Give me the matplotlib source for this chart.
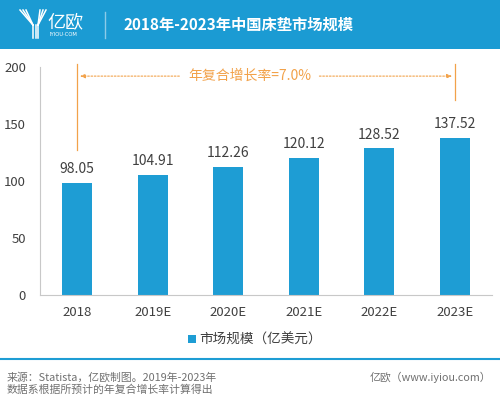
import matplotlib
matplotlib.use("Agg")
import matplotlib.pyplot as plt
from matplotlib.lines import Line2D
from matplotlib.patches import Rectangle

plt.rcParams['font.family'] = ['Noto Sans CJK SC', 'DejaVu Sans']

categories = ["2018", "2019E", "2020E", "2021E", "2022E", "2023E"]
values = [98.05, 104.91, 112.26, 120.12, 128.52, 137.52]
yticks = [0, 50, 100, 150, 200]
title = "2018年-2023年中国床垫市场规模"
legend_label = "市场规模（亿美元）"
cagr_label = "年复合增长率=7.0%"
source_lines = ["来源：Statista，亿欧制图。2019年-2023年", "数据系根据所预计的年复合增长率计算得出"]
brand = "亿欧（www.iyiou.com）"

BLUE = "#1e9dd4"
HEADER = "#1b9bd3"
ORANGE = "#f2a24a"
TXT = "#404040"
LW = "light"

W, H = 500, 415
fig = plt.figure(figsize=(5, 4.15), dpi=100)
fig.patch.set_facecolor("white")

def fx(px):
    return px / W

def fy(py):
    return 1 - py / H

# header band
fig.patches.append(Rectangle((0, fy(49)), 1, 49 / H, transform=fig.transFigure,
                             facecolor=HEADER, edgecolor="none", zorder=0))
fig.lines.append(Line2D([fx(105), fx(105)], [fy(12), fy(38)], transform=fig.transFigure,
                        color="#8ccbe8", lw=1))
# logo (approximate stylized Y)
for dx in [0, 3, 6]:
    fig.lines.append(Line2D([fx(20 + dx), fx(33)], [fy(10), fy(25)], transform=fig.transFigure,
                            color="white", lw=1.1))
    fig.lines.append(Line2D([fx(46 - dx), fx(38)], [fy(10), fy(25)], transform=fig.transFigure,
                            color="white", lw=1.1))
for dx in [0, 2.5, 5]:
    fig.lines.append(Line2D([fx(33 + dx), fx(33 + dx)], [fy(25), fy(38)], transform=fig.transFigure,
                            color="white", lw=1.1))
fig.text(fx(47), fy(22), "亿欧", color="white", fontsize=13, va="center", ha="left", fontweight=LW)
fig.text(fx(50), fy(34), "IYIOU·COM", color="white", fontsize=3.8, va="center", ha="left",
         family="DejaVu Sans")
fig.text(fx(124), fy(25), title, color="white", fontsize=11, fontweight="bold",
         va="center", ha="left")

# main axes
ax = fig.add_axes([fx(40), fy(295), fx(492) - fx(40), fy(67) - fy(295)])
x = list(range(len(categories)))
ax.bar(x, values, width=0.4, color=BLUE, zorder=2)
ax.set_xlim(-0.49, 5.49)
ax.set_ylim(0, 200)
ax.set_yticks(yticks)
ax.set_yticklabels([str(v) for v in yticks], fontweight=LW)
ax.set_xticks(x)
ax.set_xticklabels(categories, fontweight=LW)
for s in ["top", "right"]:
    ax.spines[s].set_visible(False)
for s in ["left", "bottom"]:
    ax.spines[s].set_color("#c8c8c8")
    ax.spines[s].set_linewidth(0.8)
ax.tick_params(length=0, labelsize=9.5, colors=TXT)
ax.tick_params(axis="y", pad=10)
ax.tick_params(axis="x", pad=8)

for xi, v in zip(x, values):
    ax.annotate(f"{v:.2f}", (xi, v), xytext=(0, 5), textcoords="offset points",
                ha="center", va="bottom", fontsize=10, color=TXT, fontweight=LW)

# CAGR annotation
y_arrow = 192
text_x = 2.29
ax.plot([x[0], x[0]], [203, 127], color=ORANGE, lw=0.9, clip_on=False)
ax.plot([x[-1], x[-1]], [203, 171], color=ORANGE, lw=0.9, clip_on=False)
ax.annotate("", xy=(x[0], y_arrow), xytext=(1.39, y_arrow),
            arrowprops=dict(arrowstyle="-|>,head_length=0.3,head_width=0.12",
                            color=ORANGE, lw=0.8, linestyle=(0, (1.5, 1.5))),
            annotation_clip=False)
ax.annotate("", xy=(x[-1], y_arrow), xytext=(3.17, y_arrow),
            arrowprops=dict(arrowstyle="-|>,head_length=0.3,head_width=0.12",
                            color=ORANGE, lw=0.8, linestyle=(0, (1.5, 1.5))),
            annotation_clip=False)
ax.text(text_x, y_arrow, cagr_label, ha="center", va="center", fontsize=10, color=ORANGE,
        fontweight=LW)

# legend
fig.patches.append(Rectangle((fx(188), fy(343)), fx(8), 8 / H, transform=fig.transFigure,
                             facecolor=BLUE, edgecolor="none"))
fig.text(fx(199), fy(340), legend_label, fontsize=9.8, color=TXT, va="center", ha="left",
         fontweight=LW)

# separator
fig.lines.append(Line2D([0, 1], [fy(359), fy(359)], transform=fig.transFigure,
                        color=BLUE, lw=1.5))

# footer
fig.text(fx(7), fy(377), source_lines[0], fontsize=7.8, color="#707070", va="center", ha="left",
         fontweight=LW)
fig.text(fx(7), fy(390), source_lines[1], fontsize=7.8, color="#707070", va="center", ha="left",
         fontweight=LW)
fig.text(fx(491), fy(377), brand, fontsize=7.8, color="#707070", va="center", ha="right",
         fontweight=LW)

fig.savefig("out.png", dpi=100)
